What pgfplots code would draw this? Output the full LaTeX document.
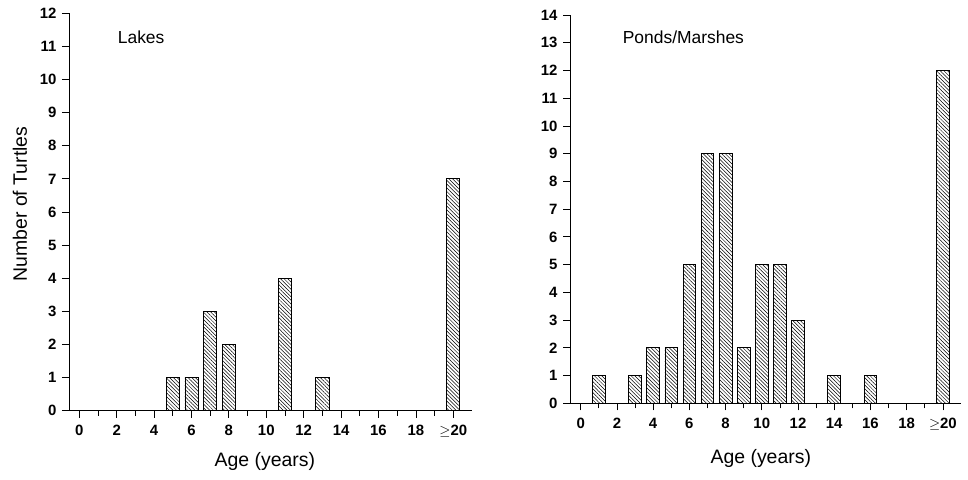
\documentclass[border=0pt]{standalone}
\usepackage{fontspec}
\setmainfont{Liberation Sans}
\usepackage{pgfplots}
\pgfplotsset{compat=1.18}
\usetikzlibrary{patterns.meta}
\pgfplotsset{
  turtle/.style={
    scale only axis,
    anchor=south west,
    axis x line*=bottom,
    axis y line*=left,
    axis line style={line width=0.9bp},
    ymin=0,
    xmin=-0.55, xmax=21,
    xtick={0,2,...,20},
    xticklabels={0,2,4,6,8,10,12,14,16,18,$\geq$20},
    minor xtick={1,3,...,19},
    tick align=outside,
    major tick length=7bp,
    minor tick length=5bp,
    tick style={line width=0.8bp, black},
    /pgf/number format/assume math mode=true,
    tick label style={font=\fontsize{15}{18}\selectfont\bfseries},
    label style={font=\fontsize{19.5}{23}\selectfont},
    ybar,
    bar width=0.7,
    xticklabel style={yshift=-4bp},
    yticklabel style={xshift=-2bp},
  },
  hatch/.style={draw=black, line width=0.8bp,
    pattern={Lines[angle=-45,distance=2.6bp,line width=0.5bp]}}
}
\begin{document}
\begin{tikzpicture}
\useasboundingbox (0bp,0bp) rectangle (968bp,480bp);
\begin{axis}[turtle,
  at={(69bp,69.3bp)}, width=403bp, height=397.4bp,
  ymax=12, ytick={0,1,...,12},
  ylabel={Number of Turtles},
  ylabel style={at={(axis description cs:-0.122,0.52)}, anchor=center},
  xlabel={Age (years)},
  xlabel style={at={(axis description cs:0.486,-0.129)}, anchor=center},
]
\addplot[hatch] coordinates {(5,1) (6,1) (7,3) (8,2) (11,4) (13,1) (20,7)};
\node[font=\fontsize{17.5}{21}\selectfont] at (axis description cs:0.179,0.94) {Lakes};
\end{axis}
\begin{axis}[turtle,
  at={(570bp,76.7bp)}, width=391bp, height=388.3bp,
  xmin=-0.59,
  ymax=14, ytick={0,1,...,14},
  xlabel={Age (years)},
  xlabel style={at={(axis description cs:0.488,-0.141)}, anchor=center},
]
\addplot[hatch] coordinates {(1,1) (3,1) (4,2) (5,2) (6,5) (7,9) (8,9) (9,2) (10,5) (11,5) (12,3) (14,1) (16,1) (20,12)};
\node[font=\fontsize{17.5}{21}\selectfont] at (axis description cs:0.29,0.943) {Ponds/Marshes};
\end{axis}
\end{tikzpicture}
\end{document}
